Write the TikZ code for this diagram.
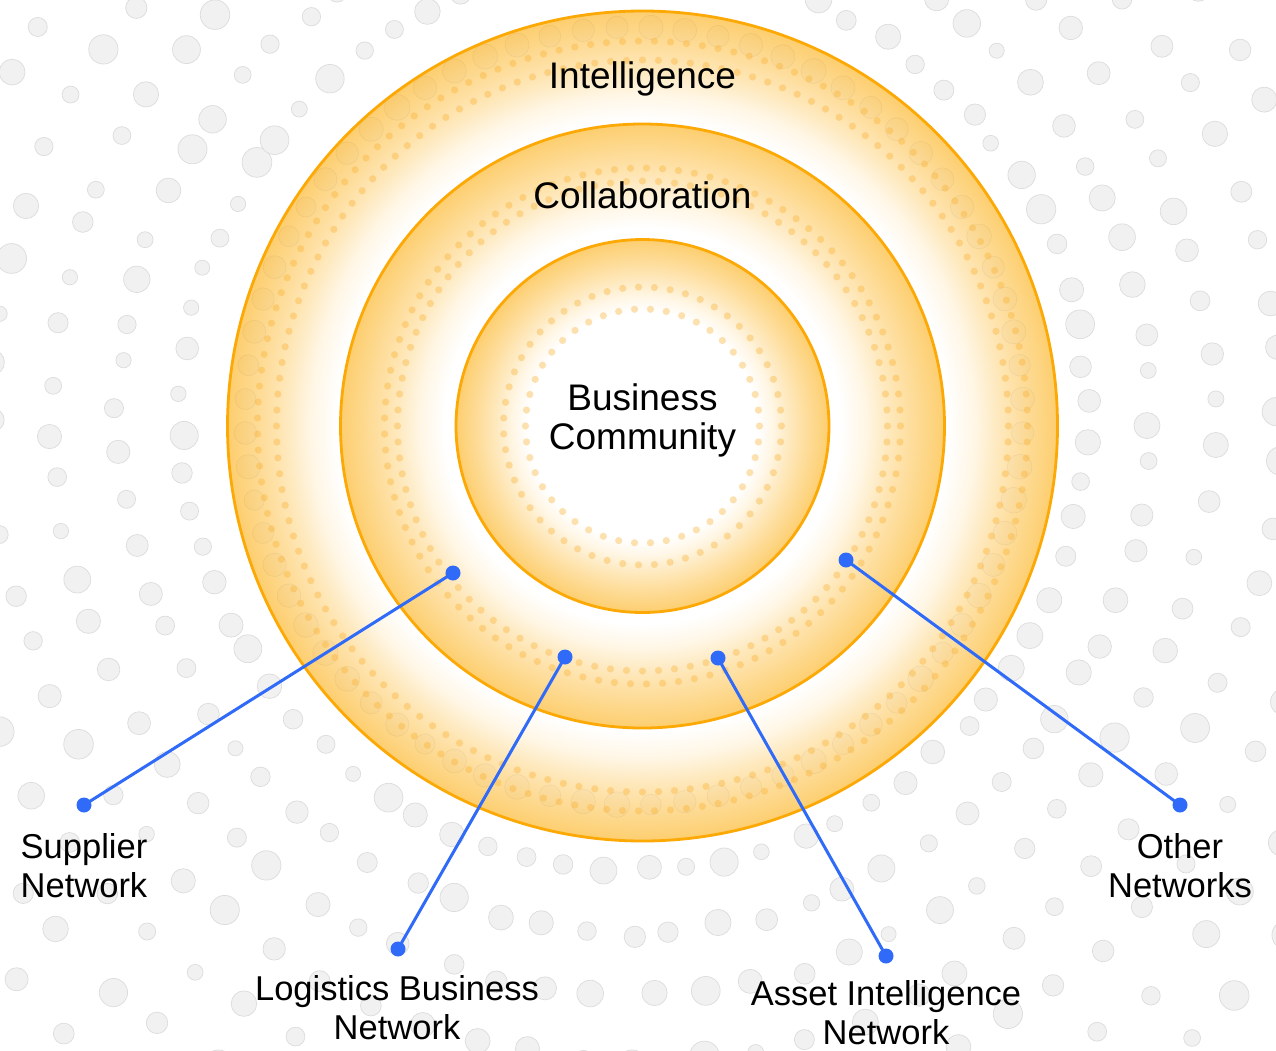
\documentclass[tikz,border=0pt]{standalone}
\usepackage{fontspec}
\setmainfont{Liberation Sans}
\usetikzlibrary{calc}
\definecolor{ringedge}{HTML}{FDCE6F}
\colorlet{ringmid}{ringedge!52!white}
\colorlet{ringlight}{ringedge!18!white}
\definecolor{ringstroke}{HTML}{FCA906}
\definecolor{linkblue}{HTML}{2F6BF8}
\definecolor{bgdot}{HTML}{F1F1F1}
\definecolor{bgdotline}{HTML}{DCDCDC}
\definecolor{ringdot}{HTML}{F9B234}
\pgfdeclareradialshading{shadeOuter}{\pgfpoint{0bp}{0bp}}{color(0bp)=(white); color(18.4bp)=(white); color(20bp)=(ringlight); color(21.8bp)=(ringmid); color(25bp)=(ringedge); color(50bp)=(ringedge)}
\pgfdeclareradialshading{shadeMiddle}{\pgfpoint{0bp}{0bp}}{color(0bp)=(white); color(16.4bp)=(white); color(18.4bp)=(ringlight); color(20.8bp)=(ringmid); color(25bp)=(ringedge); color(50bp)=(ringedge)}
\pgfdeclareradialshading{shadeInner}{\pgfpoint{0bp}{0bp}}{color(0bp)=(white); color(15.4bp)=(white); color(17.4bp)=(ringlight); color(20.3bp)=(ringmid); color(25bp)=(ringedge); color(50bp)=(ringedge)}
\tikzset{
  bgdotstyle/.style={fill=bgdot, draw=bgdotline, line width=0.7pt},
  faintdot/.style={fill=black, fill opacity=0.012, draw=black, draw opacity=0.045, line width=0.7pt},
  ringdotstyle/.style={fill=ringdot, fill opacity=0.38},
  ringline/.style={draw=ringstroke, line width=2.8pt},
  bdot/.style={circle, fill=linkblue, minimum size=15pt, inner sep=0pt},
  link/.style={draw=linkblue, line width=3pt},
  ringlabel/.style={font=\fontsize{37}{39}\selectfont, align=center, inner sep=0pt},
  outlabel/.style={font=\fontsize{34.5}{39}\selectfont, align=center, inner sep=0pt},
}
\begin{document}
\begin{tikzpicture}[x=1pt, y=-1pt]
\useasboundingbox (0,0) rectangle (1276,1051);
\fill[white] (0,0) rectangle (1276,1051);
\coordinate (C) at (642.5,426);
\coordinate (P) at (634,416);
% background dots
\pgfmathsetseed{11}
\begin{scope}
\clip (0,0) rectangle (1276,1051);
\foreach \k in {0,...,9} {
  \pgfmathsetmacro{\rk}{453+64*\k}
  \pgfmathsetmacro{\off}{rnd*5}
  \foreach \i in {0,...,71} {
    \pgfmathsetmacro{\ang}{\off+5*\i+rand*0.8}
    \pgfmathsetmacro{\rad}{\rk+rand*4}
    \pgfmathsetmacro{\sz}{7.5+rnd*7.5}
    \draw[bgdotstyle] ($(P)+(\ang:\rad)$) circle (\sz);
  }
}
\end{scope}
% outer disc
\shade[shading=shadeOuter] (C) circle (415);
\foreach \i in {0,...,71} {
  \pgfmathsetmacro{\ang}{2.5+5*\i}
  \pgfmathsetmacro{\sz}{10+rnd*3}
  \draw[faintdot] ($(P)+(\ang:389)$) circle (\sz);
}
\foreach \rr/\nn in {366/144, 385/151} {
  \foreach \i in {1,...,\nn} {
    \pgfmathsetmacro{\ang}{360/\nn*\i}
    \fill[ringdotstyle] ($(C)+(\ang:\rr)$) circle (3.6);
  }
}
\draw[ringline] (C) circle (415);
% middle disc
\shade[shading=shadeMiddle] (C) circle (302);
\foreach \rr/\nn in {245/96, 258/101} {
  \foreach \i in {1,...,\nn} {
    \pgfmathsetmacro{\ang}{360/\nn*\i}
    \fill[ringdotstyle] ($(C)+(\ang:\rr)$) circle (3.6);
  }
}
\draw[ringline] (C) circle (302);
% inner disc
\shade[shading=shadeInner] (C) circle (186.5);
\foreach \rr/\nn in {117/46, 139/55} {
  \foreach \i in {1,...,\nn} {
    \pgfmathsetmacro{\ang}{360/\nn*\i}
    \fill[ringdotstyle] ($(C)+(\ang:\rr)$) circle (3.6);
  }
}
\draw[ringline] (C) circle (186.5);
% ring labels
\node[ringlabel, anchor=base] (intel) at (642.5,89) {Intelligence};
\node[ringlabel, anchor=base] (collab) at (642.5,208) {Collaboration};
\node[ringlabel] (bizcom) at (642.5,420) {Business\\Community};
% outer labels
\node[outlabel] (supplier) at (84,866) {Supplier\\Network};
\node[outlabel] (logistics) at (397,1008) {Logistics Business\\Network};
\node[outlabel] (asset) at (886,1013) {Asset Intelligence\\Network};
\node[outlabel] (other) at (1180,865.5) {Other\\Networks};
% connectors
\node[bdot] (s1) at (453,573) {};
\node[bdot] (s2) at (84,805) {};
\node[bdot] (l1) at (565,657) {};
\node[bdot] (l2) at (398,949) {};
\node[bdot] (a1) at (718,658) {};
\node[bdot] (a2) at (886,956) {};
\node[bdot] (o1) at (846,560) {};
\node[bdot] (o2) at (1180,805) {};
\draw[link] (s1.center) -- (s2.center);
\draw[link] (l1.center) -- (l2.center);
\draw[link] (a1.center) -- (a2.center);
\draw[link] (o1.center) -- (o2.center);
\end{tikzpicture}
\end{document}
